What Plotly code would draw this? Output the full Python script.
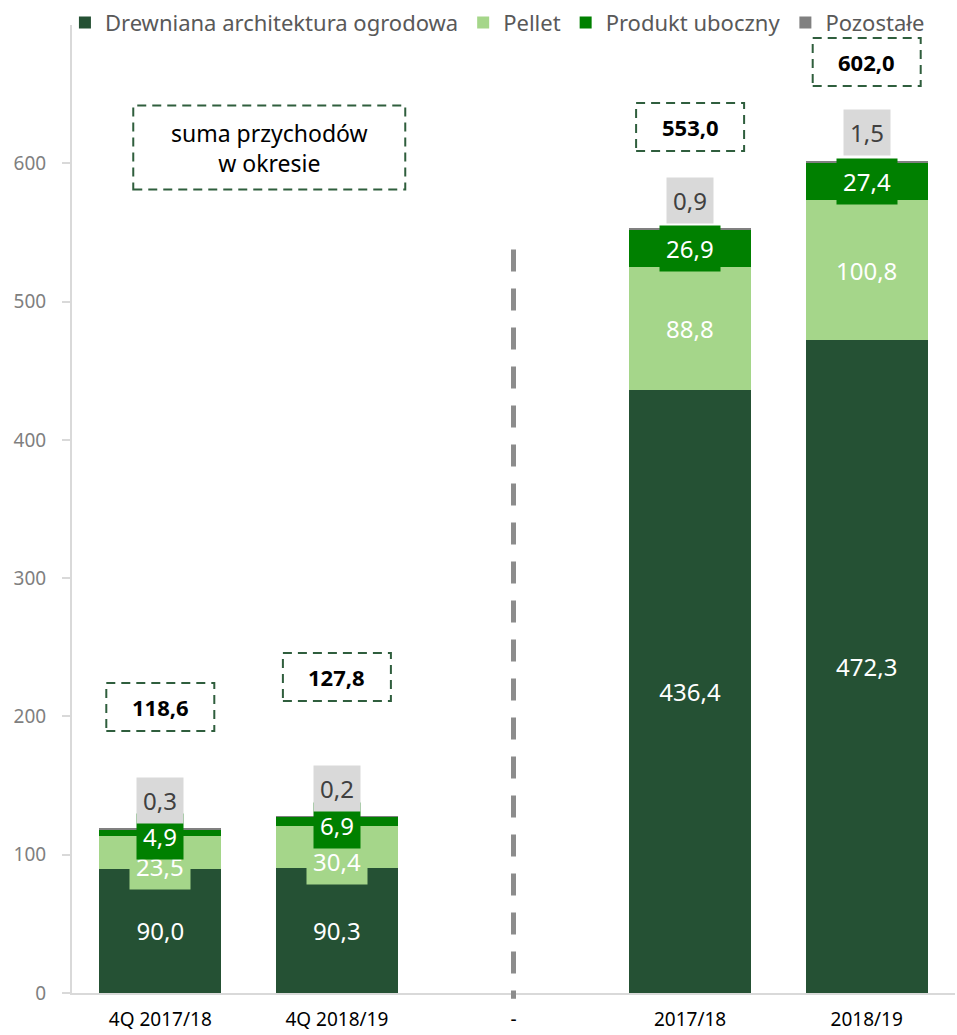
import plotly.graph_objects as go

# Revenue by product group (PLN m), quarterly and full-year periods
categories = ["4Q 2017/18", "4Q 2018/19", "-", "2017/18", "2018/19"]
drewniana = [90.0, 90.3, None, 436.4, 472.3]
pellet = [23.5, 30.4, None, 88.8, 100.8]
produkt = [4.9, 6.9, None, 26.9, 27.4]
pozostale = [0.3, 0.2, None, 0.9, 1.5]
totals = [118.6, 127.8, None, 553.0, 602.0]

series_names = ["Drewniana architektura ogrodowa", "Pellet", "Produkt uboczny", "Pozostałe"]
colors = ["#255134", "#a5d68a", "#008000", "#808080"]

FONT = "Noto Sans"


def fmt(v):
    return f"{v:.1f}".replace(".", ",")


fig = go.Figure()
for name, vals, col in zip(series_names, [drewniana, pellet, produkt, pozostale], colors):
    is_base = vals is drewniana
    fig.add_trace(go.Bar(
        x=categories, y=vals, name=name,
        marker=dict(color=col, line=dict(width=0)),
        text=[fmt(v) if (v is not None and is_base) else "" for v in vals],
        textposition="inside" if is_base else "none",
        insidetextanchor="middle",
        textangle=0,
        constraintext="none",
        textfont=dict(family=FONT, size=24, color="white"),
        hoverinfo="skip",
    ))

annotations = []
shapes = []

# segment labels with filled backgrounds
for i, cat in enumerate(categories):
    if drewniana[i] is None:
        continue
    base = drewniana[i]
    top_pellet = base + pellet[i]
    top_prod = top_pellet + produkt[i]
    top_all = top_prod + pozostale[i]
    small = top_all < 300
    annotations.append(dict(
        x=cat, y=base + pellet[i] / 2, xref="x", yref="y",
        text=fmt(pellet[i]), showarrow=False,
        font=dict(family=FONT, size=24, color="white"),
        bgcolor=colors[1], borderpad=6,
        yshift=-14 if small else 0,
    ))
    annotations.append(dict(
        x=cat, y=top_pellet + produkt[i] / 2, xref="x", yref="y",
        text=fmt(produkt[i]), showarrow=False,
        font=dict(family=FONT, size=24, color="white"),
        bgcolor=colors[2], borderpad=6,
        yshift=-4 if small else 0,
    ))
    annotations.append(dict(
        x=cat, y=top_all, xref="x", yref="y",
        text=fmt(pozostale[i]), showarrow=False,
        font=dict(family=FONT, size=24, color="#404040"),
        bgcolor="#d9d9d9", borderpad=6,
        yshift=28,
    ))

# dashed boxes with period totals
total_box_y = [206.8, 228.5, None, 626.2, 673.2]
for i, cat in enumerate(categories):
    if totals[i] is None:
        continue
    shapes.append(dict(
        type="rect", xref="x", yref="y",
        xsizemode="pixel", ysizemode="pixel",
        xanchor=i, yanchor=total_box_y[i],
        x0=-54, x1=54, y0=-24, y1=24,
        line=dict(color="#2f5e3d", width=2, dash="9px,6px"),
        fillcolor="white", layer="above",
    ))
    annotations.append(dict(
        x=cat, y=total_box_y[i], xref="x", yref="y",
        text=f"<b>{fmt(totals[i])}</b>", showarrow=False,
        font=dict(family=FONT, size=22, color="black"),
    ))

# explanatory note box
shapes.append(dict(
    type="rect", xref="x", yref="y",
    xsizemode="pixel", ysizemode="pixel",
    xanchor=0.617, yanchor=611.4,
    x0=-136, x1=136, y0=-42, y1=42,
    line=dict(color="#2f5e3d", width=2, dash="9px,6px"),
    fillcolor="white", layer="above",
))
annotations.append(dict(
    x=0.617, y=611.4, xref="x", yref="y",
    text="suma przychodów<br>w okresie", showarrow=False,
    font=dict(family=FONT, size=23, color="black"),
))

# separator between quarterly and annual figures
shapes.append(dict(
    type="line", xref="x", yref="paper",
    x0=2, x1=2, y0=0.768, y1=-0.006,
    line=dict(color="#8c8c8c", width=5, dash="22px,17px"),
    layer="above",
))

fig.update_layout(
    width=957, height=1035,
    margin=dict(l=72, r=2, t=25, b=42),
    barmode="stack", bargap=0.31,
    separators=", ",
    plot_bgcolor="white", paper_bgcolor="white",
    font=dict(family=FONT, color="#595959"),
    showlegend=True,
    legend=dict(
        orientation="h", x=-0.008, xanchor="left", y=1.024, yanchor="top",
        font=dict(family=FONT, size=22, color="#595959"),
        traceorder="normal", itemclick=False, itemdoubleclick=False,
        bgcolor="rgba(0,0,0,0)",
    ),
    xaxis=dict(
        type="category", showgrid=False, showline=True,
        linecolor="#d9d9d9", linewidth=2, ticks="",
        tickfont=dict(family=FONT, size=19, color="#000000"),
        ticklabelstandoff=8,
    ),
    yaxis=dict(
        range=[0, 700], tickvals=[0, 100, 200, 300, 400, 500, 600],
        showgrid=False, zeroline=False, showline=True,
        linecolor="#d9d9d9", linewidth=2,
        ticks="outside", ticklen=8, tickcolor="#d9d9d9", tickwidth=2,
        tickfont=dict(family=FONT, size=19, color="#7f7f7f"),
        ticklabelstandoff=12,
    ),
    annotations=annotations,
    shapes=shapes,
)

fig.write_html("out.html")
